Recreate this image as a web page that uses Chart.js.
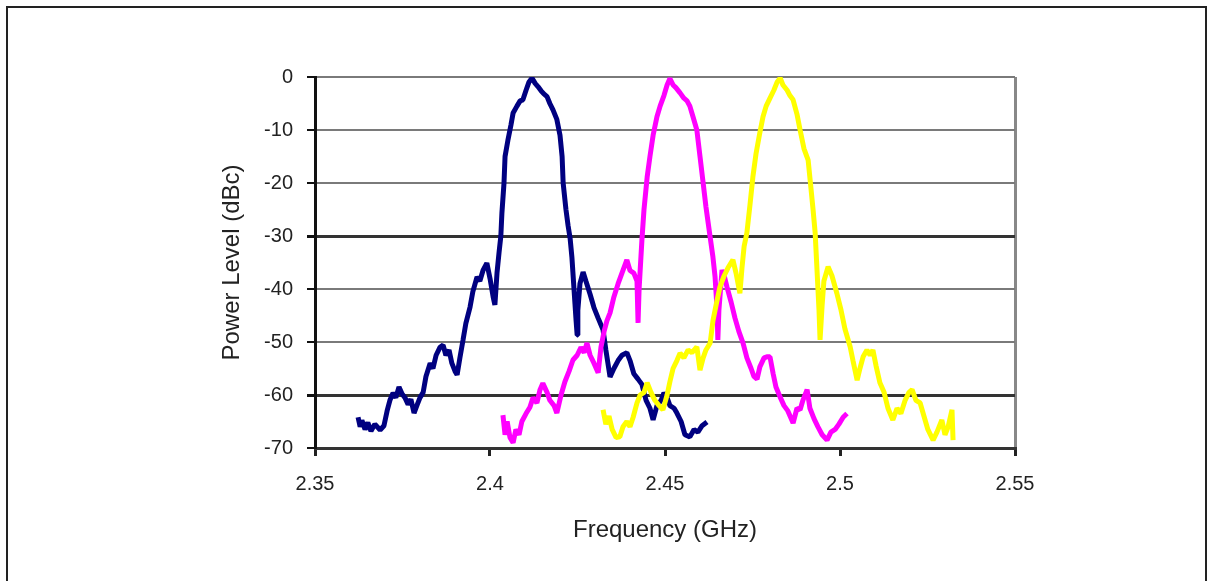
<!DOCTYPE html>
<html>
<head>
<meta charset="utf-8">
<script src="https://cdn.jsdelivr.net/npm/chart.js@4.4.1/dist/chart.umd.min.js"></script>
<style>
  html, body { margin: 0; padding: 0; background: #fff; overflow: hidden; }
  #frame { position: absolute; left: 6px; top: 6px; width: 1197px; height: 620px; border: 2px solid #222; }
  #canvas { position: absolute; left: 0; top: 0; }
</style>
</head>
<body>
<div id="frame"></div>
<canvas id="canvas" width="1212" height="581"></canvas>
<script>
// channel spectra, frequency in GHz, level in dBc
var navyFreq = [2.3623,2.3629,2.3634,2.3643,2.3651,2.366,2.3671,2.3686,2.3697,2.3706,2.3714,2.3723,2.3731,2.374,2.3749,2.3757,2.3766,2.3774,2.3783,2.3791,2.38,2.3809,2.3817,2.3829,2.3837,2.3846,2.3857,2.3866,2.3874,2.3883,2.3891,2.39,2.3906,2.3914,2.3923,2.3931,2.3943,2.3951,2.3963,2.3971,2.398,2.3991,2.40,2.4009,2.4014,2.402,2.4026,2.4031,2.4034,2.404,2.4043,2.4051,2.406,2.4066,2.4077,2.4086,2.4094,2.4103,2.4111,2.412,2.4129,2.4137,2.4146,2.4154,2.4163,2.4171,2.418,2.4191,2.42,2.4206,2.4209,2.4217,2.4223,2.4229,2.4234,2.424,2.4246,2.4249,2.4251,2.4257,2.4266,2.4274,2.4286,2.4297,2.4309,2.4323,2.4331,2.4343,2.4354,2.4366,2.4377,2.4391,2.44,2.4411,2.4423,2.4434,2.4446,2.4457,2.4466,2.4477,2.4489,2.4497,2.4506,2.4514,2.4526,2.4534,2.4546,2.4557,2.4571,2.4583,2.4594,2.4606,2.462];
var navyLevel = [-64.2,-66.0,-64.8,-66.5,-65.2,-66.8,-65.5,-66.6,-65.8,-63.0,-61.0,-59.6,-60.5,-58.5,-59.8,-60.5,-61.8,-60.8,-63.4,-62.0,-60.5,-59.5,-56.5,-54.0,-55.0,-52.5,-51.0,-50.6,-52.5,-51.5,-54.0,-55.5,-56.2,-53.0,-49.6,-46.5,-43.4,-40.5,-37.7,-38.5,-36.5,-35.1,-38.0,-41.5,-43.0,-37.0,-33.0,-30.0,-25.7,-20.0,-15.0,-12.0,-9.0,-6.8,-5.5,-4.5,-4.3,-2.5,-1.0,-0.2,-1.2,-1.8,-2.6,-3.2,-3.7,-5.0,-6.2,-8.0,-11.0,-15.0,-20.0,-25.0,-28.0,-30.5,-34.0,-40.0,-46.0,-48.7,-44.0,-39.0,-36.8,-38.5,-41.0,-43.5,-45.5,-47.7,-51.5,-56.6,-55.0,-53.5,-52.5,-52.0,-53.5,-56.0,-57.0,-58.0,-61.0,-62.5,-64.7,-62.0,-61.0,-59.6,-60.5,-62.0,-62.5,-63.4,-65.0,-67.5,-67.9,-66.5,-67.0,-65.8,-65.1];

var magentaFreq = [2.4037,2.4043,2.4049,2.4057,2.4066,2.4074,2.4083,2.4091,2.4103,2.4114,2.4123,2.4134,2.4143,2.4151,2.4163,2.4171,2.4183,2.4191,2.4203,2.4214,2.4226,2.4237,2.4249,2.426,2.4269,2.4277,2.4286,2.4297,2.4309,2.4317,2.4326,2.4334,2.4343,2.4354,2.4366,2.4377,2.4391,2.44,2.4411,2.442,2.4423,2.4426,2.4434,2.444,2.4449,2.4457,2.4466,2.4477,2.4486,2.4497,2.4506,2.4514,2.4523,2.4531,2.4543,2.4554,2.4563,2.4571,2.458,2.4591,2.46,2.4609,2.4617,2.4629,2.4637,2.4643,2.4649,2.4651,2.4654,2.4663,2.4671,2.4677,2.4689,2.47,2.4711,2.4723,2.4734,2.4746,2.4754,2.4763,2.4771,2.4783,2.4791,2.48,2.4809,2.4817,2.4829,2.484,2.4851,2.4866,2.4877,2.4886,2.4894,2.4906,2.4914,2.4926,2.4937,2.4949,2.4963,2.4974,2.4986,2.4997,2.5009,2.502];
var magentaLevel = [-63.8,-67.5,-65.0,-68.0,-69.0,-66.5,-67.5,-65.0,-63.5,-62.3,-60.5,-61.5,-59.0,-57.8,-59.5,-61.0,-62.0,-63.4,-60.0,-57.5,-55.5,-53.4,-52.5,-51.0,-52.0,-50.2,-52.5,-54.0,-55.8,-51.0,-48.0,-46.0,-44.5,-41.5,-39.0,-37.0,-34.5,-36.5,-37.0,-38.5,-46.4,-40.0,-30.8,-25.0,-18.9,-15.0,-11.0,-7.5,-5.5,-3.5,-1.5,-0.3,-1.5,-2.0,-3.0,-4.0,-4.5,-5.5,-7.5,-10.0,-15.0,-20.0,-24.5,-30.2,-34.0,-37.7,-44.0,-49.6,-44.0,-36.4,-38.0,-39.6,-42.5,-45.5,-48.0,-50.2,-53.0,-55.0,-56.5,-57.0,-54.7,-53.0,-52.8,-52.8,-56.0,-58.5,-60.4,-62.0,-63.0,-65.3,-62.5,-62.8,-61.0,-59.0,-62.5,-64.5,-66.0,-67.5,-68.5,-67.0,-66.5,-65.5,-64.2,-63.5];

var yellowFreq = [2.4323,2.4331,2.434,2.4349,2.436,2.4371,2.438,2.4391,2.44,2.4409,2.442,2.4429,2.444,2.4449,2.446,2.4471,2.4483,2.4494,2.4506,2.4514,2.4523,2.4534,2.4543,2.4554,2.4566,2.4577,2.4591,2.46,2.4609,2.4617,2.4629,2.4637,2.4646,2.4657,2.4669,2.468,2.4694,2.4703,2.4714,2.472,2.4726,2.4734,2.4743,2.4751,2.476,2.4771,2.478,2.4789,2.48,2.4811,2.482,2.4829,2.4837,2.4849,2.4857,2.4866,2.4877,2.4886,2.4897,2.4909,2.4917,2.4923,2.4929,2.4934,2.494,2.4943,2.4949,2.4954,2.4966,2.4977,2.4991,2.5003,2.5014,2.5029,2.5037,2.5049,2.5057,2.5066,2.5077,2.5086,2.5094,2.5103,2.5114,2.5126,2.5137,2.5151,2.5163,2.5174,2.5186,2.5197,2.5206,2.5217,2.5229,2.524,2.5251,2.5266,2.5277,2.5291,2.53,2.5309,2.532,2.5323];
var yellowLevel = [-62.8,-65.5,-64.0,-66.5,-68.0,-67.9,-66.0,-65.0,-66.0,-64.2,-61.5,-60.0,-59.5,-57.7,-59.5,-61.0,-62.0,-62.8,-60.0,-57.5,-55.0,-53.5,-52.1,-53.0,-51.5,-52.0,-50.9,-55.3,-53.0,-51.5,-50.2,-46.0,-43.0,-39.6,-37.5,-36.0,-34.5,-37.0,-40.8,-36.0,-32.0,-29.4,-24.0,-18.9,-14.5,-10.5,-7.5,-5.5,-4.0,-2.5,-1.0,-0.2,-1.5,-2.5,-3.5,-4.3,-7.0,-10.0,-13.5,-15.7,-21.0,-25.0,-29.4,-36.0,-44.0,-49.6,-43.0,-38.5,-35.8,-37.5,-40.8,-44.0,-47.5,-50.9,-53.5,-57.2,-55.0,-52.8,-51.5,-52.5,-51.5,-54.5,-57.7,-59.5,-62.5,-64.7,-62.5,-63.5,-61.0,-59.5,-59.0,-61.0,-61.5,-64.0,-66.5,-68.5,-67.0,-64.7,-67.5,-66.0,-62.8,-68.5];

var xTicks = ['2.35', '2.4', '2.45', '2.5', '2.55'];
var yTitle = 'Power Level (dBc)';
var xTitle = 'Frequency (GHz)';

function toPoints(freq, level){
    var pts = [];
    for(var i = 0; i < freq.length; i++){
        pts.push({x: freq[i], y: level[i]});
    }
    return pts;
}

function traceSet(freq, level, colour, order){
    return {
        data: toPoints(freq, level),
        borderColor: colour,
        backgroundColor: colour,
        borderWidth: 5,
        borderJoinStyle: 'bevel',
        pointRadius: 0,
        tension: 0,
        fill: false,
        order: order
    };
}

var tickFont = {family: 'Liberation Sans, Arial, sans-serif', size: 20};
var titleFont = {family: 'Liberation Sans, Arial, sans-serif', size: 24};

var ctx = document.getElementById('canvas').getContext('2d');
new Chart(ctx, {
    type: 'line',
    data: {
        datasets: [
            traceSet(navyFreq, navyLevel, '#000080', 3),
            traceSet(magentaFreq, magentaLevel, '#ff00ff', 2),
            traceSet(yellowFreq, yellowLevel, '#ffff00', 1)
        ]
    },
    options: {
        responsive: false,
        animation: false,
        layout: {padding: {left: 200, top: 77, right: 197, bottom: 0}},
        plugins: {legend: {display: false}, tooltip: {enabled: false}},
        scales: {
            x: {
                type: 'linear',
                min: 2.35,
                max: 2.55,
                afterFit: function(scale){ scale.height = 133; },
                ticks: {
                    stepSize: 0.05,
                    color: '#222',
                    font: tickFont,
                    padding: 16,
                    maxRotation: 0,
                    callback: function(v, i){ return xTicks[i]; }
                },
                grid: {
                    drawOnChartArea: true,
                    tickLength: 8,
                    tickColor: '#222',
                    lineWidth: 3,
                    color: function(c){
                        return (c.tick && Math.abs(c.tick.value - 2.55) < 1e-6) ? '#888' : 'rgba(0,0,0,0)';
                    }
                },
                border: {color: '#333', width: 3},
                title: {display: true, text: xTitle, color: '#222', font: titleFont, padding: {top: 0, bottom: 36}}
            },
            y: {
                min: -70,
                max: 0,
                afterFit: function(scale){ scale.width = 115; },
                ticks: {stepSize: 10, color: '#222', font: tickFont, padding: 14},
                grid: {
                    tickLength: 8,
                    tickColor: '#111',
                    color: function(c){
                        var v = c.tick ? c.tick.value : 0;
                        return (v === -30 || v === -60) ? '#333' : '#7a7a7a';
                    },
                    lineWidth: function(c){
                        var v = c.tick ? c.tick.value : 0;
                        return (v === -30 || v === -60) ? 3 : 2;
                    }
                },
                border: {color: '#111', width: 3},
                title: {display: true, text: yTitle, color: '#222', font: titleFont, padding: {top: 18, bottom: 0}}
            }
        }
    }
});
</script>
</body>
</html>
